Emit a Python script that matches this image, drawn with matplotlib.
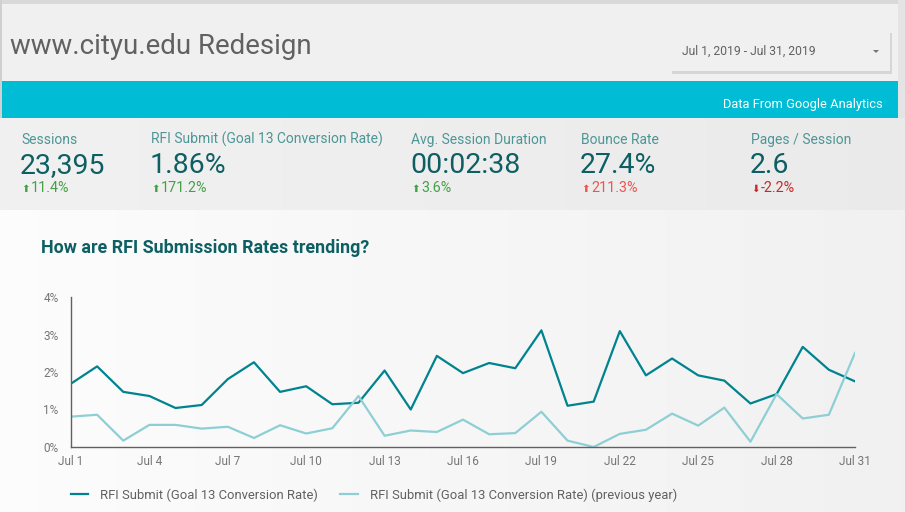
import numpy as np
import matplotlib
matplotlib.use('Agg')
import matplotlib.pyplot as plt
import matplotlib.dates as mdates
from matplotlib.patches import Rectangle, Polygon
from matplotlib.ticker import FuncFormatter

plt.rcParams['font.family'] = ['Roboto', 'DejaVu Sans']

# data
dates = np.arange(np.datetime64('2019-07-01'), np.datetime64('2019-08-01'))
rfi_rate = [1.69, 2.15, 1.47, 1.36, 1.04, 1.12, 1.81, 2.26, 1.47, 1.62,
            1.14, 1.18, 2.04, 1.00, 2.43, 1.97, 2.24, 2.10, 3.11, 1.10,
            1.21, 3.09, 1.91, 2.36, 1.91, 1.77, 1.16, 1.41, 2.67, 2.06, 1.75]
rfi_rate_prev = [0.81, 0.86, 0.17, 0.59, 0.59, 0.49, 0.54, 0.24, 0.58, 0.36,
                 0.50, 1.36, 0.30, 0.44, 0.40, 0.73, 0.34, 0.37, 0.94, 0.17,
                 0.00, 0.35, 0.46, 0.89, 0.57, 1.05, 0.14, 1.41, 0.76, 0.86, 2.51]

kpi_labels = ['Sessions', 'RFI Submit (Goal 13 Conversion Rate)', 'Avg. Session Duration',
              'Bounce Rate', 'Pages / Session']
kpi_values = ['23,395', '1.86%', '00:02:38', '27.4%', '2.6']
kpi_changes = ['11.4%', '171.2%', '3.6%', '211.3%', '-2.2%']
kpi_up = [True, True, True, True, False]
kpi_good = [True, True, True, False, False]
series_names = ['RFI Submit (Goal 13 Conversion Rate)',
                'RFI Submit (Goal 13 Conversion Rate) (previous year)']

W, H = 905, 512
fig = plt.figure(figsize=(W / 100, H / 100), dpi=100)
fig.patch.set_facecolor('#f8f8f8')


def px(x, y):
    return x / W, 1 - y / H


def box(x0, y0, x1, y1, color):
    fig.patches.append(Rectangle(px(x0, y1), (x1 - x0) / W, (y1 - y0) / H,
                                 transform=fig.transFigure, facecolor=color,
                                 edgecolor='none', zorder=-10))


# page backgrounds
box(0, 0, W, 4, '#d9d9d9')
box(0, 4, W, 81, '#f0f0f0')
box(0, 81, W, 118, '#00bcd4')

# soft left-to-right gradients for the kpi strip and chart panel
bg = fig.add_axes([0, 0, 1, 1 - 118 / H], zorder=-5)
bg.axis('off')
grad = np.ones((302 + 92, 200, 3))
shade = np.linspace(0, 1, 200)
grad[:92] = (0.945 - 0.025 * shade)[None, :, None]
grad[92:] = (0.99 - 0.045 * shade)[None, :, None]
bg.imshow(grad, aspect='auto', extent=[0, 1, 0, 1], interpolation='bilinear')

box(0, 0, 2, H, '#d0d0d0')
box(898, 0, W, H, '#e4e4e4')

fig.text(*px(10, 54), 'www.cityu.edu Redesign', fontsize=19.9, color='#616161',
         va='baseline')

# date picker
box(672, 33, 892, 74, '#d6d6d6')
box(671, 31, 890, 71, '#f0f0f0')
fig.text(*px(682, 55), 'Jul 1, 2019 - Jul 31, 2019', fontsize=8.7, color='#616161', va='baseline')
fig.patches.append(Polygon([px(873, 50), px(879, 50), px(876, 53)], closed=True,
                           transform=fig.transFigure, facecolor='#757575', edgecolor='none'))

fig.text(*px(883, 108), 'Data From Google Analytics', fontsize=9.3, color='white',
         ha='right', va='baseline')

# KPI row
kpi_x = [21, 151, 411, 581, 751]
for x, lab, val, chg, up, good in zip(kpi_x, kpi_labels, kpi_values, kpi_changes, kpi_up, kpi_good):
    fig.text(*px(x, 144), lab, fontsize=10, color='#4e9595', va='baseline')
    fig.text(*px(x - 1, 173), val, fontsize=20.5, color='#0e5f63', va='baseline')
    c = '#43a047' if good else ('#ef5350' if up else '#c62828')
    fig.text(*px(x, 192), ('⬆' if up else '⬇'), fontsize=7.5, color=c, va='baseline',
             family=['DejaVu Sans'])
    fig.text(*px(x + 10, 192), chg, fontsize=10.3, color=c, va='baseline')

fig.text(*px(41, 253), 'How are RFI Submission Rates trending?', fontsize=12.9,
         fontweight='bold', color='#0e5f63', va='baseline')

# line chart
ax = fig.add_axes([71 / W, 1 - 447 / H, 784 / W, 150 / H])
ax.set_facecolor('none')
ax.plot(dates, rfi_rate, color='#00838f', lw=1.6, label=series_names[0])
ax.plot(dates, rfi_rate_prev, color='#8ecfd4', lw=1.6, label=series_names[1])
ax.set_ylim(0, 4)
ax.set_xlim(dates[0], dates[-1])
ax.set_yticks([0, 1, 2, 3, 4])
ax.yaxis.set_major_formatter(FuncFormatter(lambda v, p: f'{v:.0f}%'))
ax.xaxis.set_major_locator(mdates.DayLocator(interval=3))
ax.xaxis.set_major_formatter(FuncFormatter(lambda v, p: f"{mdates.num2date(v):%b} {mdates.num2date(v).day}"))
for s in ['top', 'right']:
    ax.spines[s].set_visible(False)
for s in ['left', 'bottom']:
    ax.spines[s].set_color('#616161')
    ax.spines[s].set_linewidth(1)
ax.tick_params(length=0, labelsize=8.5, labelcolor='#757575', pad=6)
ax.tick_params(axis='y', pad=9)

ax.legend(loc='center left', bbox_to_anchor=(-0.007, -0.32), ncol=2, frameon=False,
          fontsize=9.4, labelcolor='#616161', handlelength=1.35, handletextpad=0.9,
          columnspacing=1.7, borderaxespad=0)

fig.savefig('out.png', dpi=100, facecolor=fig.get_facecolor())
